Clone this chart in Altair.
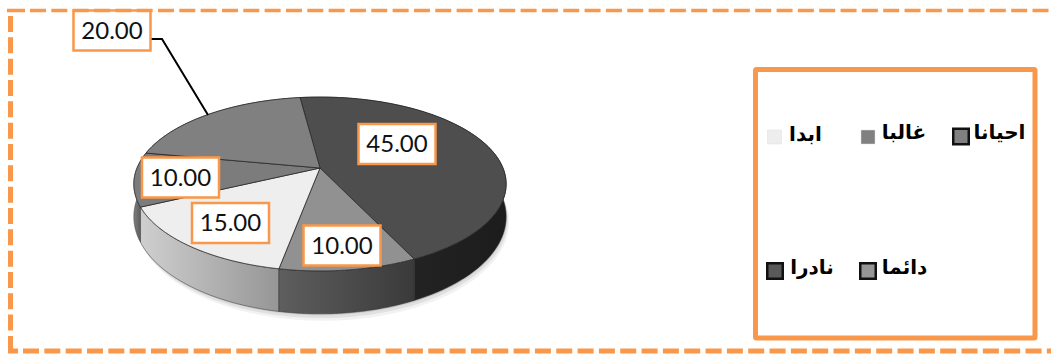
import altair as alt
import numpy as np
import pandas as pd

# Slice values, clockwise from the first boundary
categories = ["نادرا", "دائما", "ابدا", "غالبا", "احيانا"]
values = [45.0, 10.0, 15.0, 10.0, 20.0]
top_colors = ["#4E4E4E", "#919191", "#EEEEEE", "#7C7C7C", "#808080"]
wall_stops = [
    ("#2B2B2B", "#1C1C1C"),
    ("#5E5E5E", "#3A3A3A"),
    ("#969696", "#CFCFCF"),
    ("#3E3E3E", "#808080"),
    ("#606060", "#606060"),
]
legend_names = ["احيانا", "غالبا", "ابدا", "دائما", "نادرا"]
legend_colors = ["#808080", "#808080", "#EEEEEE", "#969696", "#595959"]
legend_outlined = [True, False, False, True, True]

# Layout of the drawing, in pixels
W, H = 1051, 355
ORANGE = "#F9984A"
CX, CY = 320.0, 168.0
RX, RY, TILT = 183.0, 84.0, 0.184
START_DEG = -7.4
DEPTH = 31.0

label_centers = [(397, 144), (342, 245.5), (230.5, 223), (180.5, 177.5), (112, 30.5)]
legend_swatches = [(961, 136.5, 18), (868, 137, 14), (774.5, 137, 14), (868, 271, 18), (775, 271, 18)]
legend_text_x = [999.5, 904, 805.5, 904.5, 812]
legend_text_y = [133, 133, 135, 268, 268]

x_scale = alt.Scale(domain=[0, W], range=[0, W])
y_scale = alt.Scale(domain=[0, H], range=[0, H])
X = alt.X("px:Q", scale=x_scale, axis=None)
Y = alt.Y("py:Q", scale=y_scale, axis=None)


def project(deg, depth=0.0):
    """Place a rim angle (clockwise from the far side) on the tilted disc."""
    t = np.radians(deg)
    c, s = np.sin(t), -np.cos(t)
    w = 1 - TILT * s
    return CX + RX * c / w, CY + RY * s / w + depth / w**1.6


def polygon(xs, ys):
    xs, ys = list(xs) + [xs[0]], list(ys) + [ys[0]]
    return pd.DataFrame({"px": xs, "py": ys, "i": range(len(xs))})


def filled(frame, fill, stroke="#2A2A2A", width=0.8):
    return (
        alt.Chart(frame)
        .mark_line(fill=fill, stroke=stroke, strokeWidth=width, interpolate="linear")
        .encode(x=X, y=Y, order=alt.Order("i:Q"))
    )


shares = np.array(values) / sum(values) * 360.0
edges = START_DEG + np.concatenate([[0], np.cumsum(shares)])

layers = []

# Faint drop shadow beneath the disc
ring = np.linspace(0, 360, 181)
for grow, alpha in [(5, 0.05), (3, 0.07), (1, 0.09)]:
    sx, sy = project(ring, DEPTH + grow)
    layers.append(
        alt.Chart(polygon(sx + grow * 0.6, sy))
        .mark_line(fill="#000000", fillOpacity=alpha, strokeOpacity=0, interpolate="linear")
        .encode(x=X, y=Y, order=alt.Order("i:Q"))
    )

# Outer walls of the slices, far side first so near walls overlap them
draw_order = [4, 3, 0, 2, 1]
for k in draw_order:
    arc = np.linspace(edges[k], edges[k + 1], 90)
    ax, ay = project(arc)
    bx, by = project(arc, DEPTH)
    a, b = wall_stops[k]
    left_to_right = k not in (2, 3)
    gradient = alt.Gradient(
        gradient="linear",
        x1=0 if left_to_right else 1,
        x2=1 if left_to_right else 0,
        y1=0,
        y2=0,
        stops=[alt.GradientStop(color=a, offset=0), alt.GradientStop(color=b, offset=1)],
    )
    layers.append(
        filled(polygon(np.r_[ax, bx[::-1]], np.r_[ay, by[::-1]]), gradient, stroke="#333333", width=0.5)
    )

# Top faces of the slices
for k in range(len(values)):
    arc = np.linspace(edges[k], edges[k + 1], 90)
    ax, ay = project(arc)
    layers.append(filled(polygon(np.r_[CX, ax], np.r_[CY, ay]), top_colors[k]))

# Leader from the far slice to its label
leader = pd.DataFrame({"px": [151, 162, 208], "py": [39, 39, 115], "i": [0, 1, 2]})
layers.append(
    alt.Chart(leader).mark_line(color="#000000", strokeWidth=2).encode(x=X, y=Y, order=alt.Order("i:Q"))
)

# Value labels in orange boxes
labels = pd.DataFrame(
    {
        "value": values,
        "text": [f"{v:.2f}" for v in values],
        "px": [p[0] for p in label_centers],
        "py": [p[1] for p in label_centers],
    }
)
labels["x0"], labels["x1"] = labels.px - 38.5, labels.px + 38.5
labels["y0"], labels["y1"] = labels.py - 20, labels.py + 20
layers.append(
    alt.Chart(labels)
    .mark_rect(fill="#FFFFFF", stroke=ORANGE, strokeWidth=2.5)
    .encode(
        x=alt.X("x0:Q", scale=x_scale, axis=None), x2="x1:Q",
        y=alt.Y("y0:Q", scale=y_scale, axis=None), y2="y1:Q",
    )
)
layers.append(
    alt.Chart(labels)
    .mark_text(font="Lato", fontSize=24, color="#111111", align="center", baseline="middle", dy=1)
    .encode(x=X, y=Y, text="text:N")
)

# Dashed outer frame: top, left and bottom runs, plus the short corner pieces
dash = [16, 5.33]
solid = [10, 0]
frame_runs = [
    (dict(x=alt.value(7), x2=alt.value(25), y=alt.value(10.5)), 3.5, solid),
    (dict(x=alt.value(30), x2=alt.value(W), y=alt.value(10.5)), 3.5, dash),
    (dict(x=alt.value(10.5), y=alt.value(16), y2=alt.value(352)), 5, dash),
    (dict(x=alt.value(8), x2=alt.value(18), y=alt.value(351)), 5, solid),
    (dict(x=alt.value(23), x2=alt.value(W), y=alt.value(351)), 5, dash),
]
for enc, w, pattern in frame_runs:
    layers.append(
        alt.Chart(pd.DataFrame({"k": [0]})).mark_rule(color=ORANGE, strokeWidth=w, strokeDash=pattern).encode(**enc)
    )

# Legend frame, swatches and names
frame = pd.DataFrame({"x0": [755.5], "x1": [1035], "y0": [69.5], "y1": [338]})
layers.append(
    alt.Chart(frame)
    .mark_rect(fill="#FFFFFF", stroke=ORANGE, strokeWidth=5, cornerRadius=1)
    .encode(
        x=alt.X("x0:Q", scale=x_scale, axis=None), x2="x1:Q",
        y=alt.Y("y0:Q", scale=y_scale, axis=None), y2="y1:Q",
    )
)
legend = pd.DataFrame(
    {
        "name": legend_names,
        "color": legend_colors,
        "outlined": legend_outlined,
        "cx": [s[0] for s in legend_swatches],
        "cy": [s[1] for s in legend_swatches],
        "size": [s[2] for s in legend_swatches],
        "px": legend_text_x,
        "py": legend_text_y,
    }
)
legend["x0"], legend["x1"] = legend.cx - legend["size"] / 2, legend.cx + legend["size"] / 2
legend["y0"], legend["y1"] = legend.cy - legend["size"] / 2, legend.cy + legend["size"] / 2
for outlined, stroke, sw in [(True, "#111111", 2.5), (False, "#DDDDDD", 0.5)]:
    inset = 1.25 if outlined else 0
    part = legend[legend.outlined == outlined].copy()
    part[["x0", "y0"]] += inset
    part[["x1", "y1"]] -= inset
    layers.append(
        alt.Chart(part)
        .mark_rect(stroke=stroke, strokeWidth=sw)
        .encode(
            x=alt.X("x0:Q", scale=x_scale, axis=None), x2="x1:Q",
            y=alt.Y("y0:Q", scale=y_scale, axis=None), y2="y1:Q",
            fill=alt.Fill("color:N", scale=None),
        )
    )
layers.append(
    alt.Chart(legend)
    .mark_text(font="DejaVu Sans", fontWeight="bold", fontSize=20, color="#000000", align="center", baseline="middle")
    .encode(x=X, y=Y, text="name:N")
)

chart = (
    alt.layer(*layers)
    .properties(width=W, height=H, padding=0, autosize=alt.AutoSizeParams(type="none"), background="#FFFFFF")
    .configure_view(stroke=None)
)
chart.save("out.html", embed_options={"renderer": "svg", "actions": False})
